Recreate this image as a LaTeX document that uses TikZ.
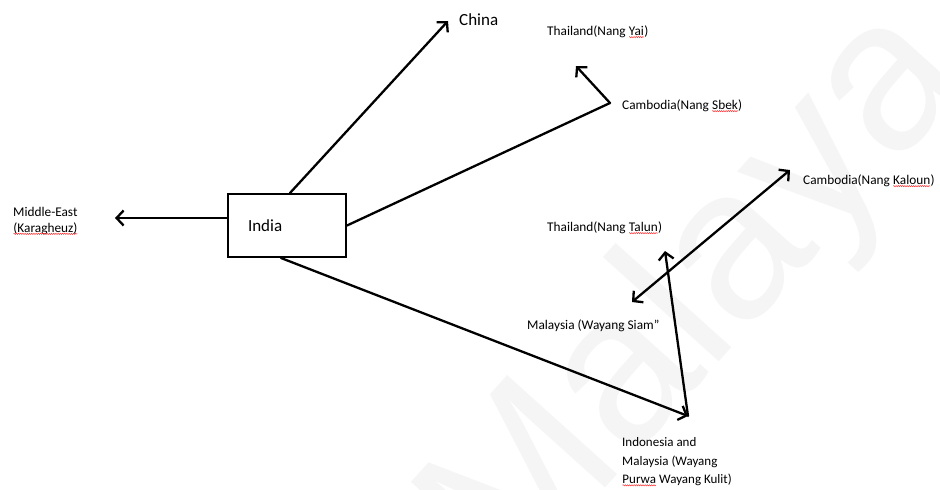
\documentclass[tikz,border=0pt]{standalone}
\usepackage{fontspec}
\setmainfont{Carlito}
\newfontfamily\wmfont{Liberation Sans}
\usetikzlibrary{arrows.meta,decorations.pathmorphing}
\newcommand\spellmark[1]{\tikz[baseline=(sw.base)]{\node[inner sep=0pt,outer sep=0pt](sw){#1};\draw[red!80,line width=0.5pt,decorate,decoration={snake,amplitude=0.6pt,segment length=2.2pt}] ([yshift=-1.4pt]sw.base west)--([yshift=-1.4pt]sw.base east);}}
\begin{document}
\begin{tikzpicture}[x=1pt,y=-1pt,
  lbl/.style={anchor=west,inner sep=0pt,font=\fontsize{13.3}{16}\selectfont,align=left},
  big/.style={anchor=west,inner sep=0pt,font=\fontsize{17}{20}\selectfont},
  conn/.style={line width=2.3pt,line cap=round,line join=round,-{Straight Barb[length=7pt,width=15pt,line width=2.3pt]}},
  dconn/.style={line width=2.3pt,line cap=round,{Straight Barb[length=7pt,width=15pt,line width=2.3pt]}-{Straight Barb[length=7pt,width=15pt,line width=2.3pt]}},
  boxnode/.style={draw,line width=2pt,minimum width=118pt,minimum height=63pt,text width=78pt,inner xsep=20pt,align=left,font=\fontsize{17}{20}\selectfont}]
\useasboundingbox (0,0) rectangle (940,490);
\fill[white] (0,0) rectangle (940,490);
% watermark
\begin{scope}
\clip (0,0) rectangle (940,490);
\node[rotate=48,text=black!4,font=\wmfont\fontsize{215}{215}\selectfont,inner sep=0pt] (wm) at (700,300) {Malaya};
\end{scope}
% nodes
\node[boxnode] (india) at (287,225.5) {India};
\node[lbl] (me) at (13,221) {Middle-East\\\spellmark{(Karagheuz)}};
\node[big] (china) at (459,20) {China};
\node[lbl] (thyai) at (547,32) {Thailand(Nang \spellmark{Yai})};
\node[lbl] (cbsbek) at (622,106) {Cambodia(Nang \spellmark{Sbek})};
\node[lbl] (cbkal) at (803,181) {Cambodia(Nang \spellmark{Kaloun})};
\node[lbl] (thtal) at (547,228) {Thailand(Nang \spellmark{Talun})};
\node[lbl] (mysiam) at (527,326) {Malaysia (Wayang Siam”};
\node[lbl,font=\fontsize{13}{18.5}\selectfont] (indo) at (622,462) {Indonesia and\\Malaysia (Wayang\\\spellmark{Purwa} Wayang Kulit)};
% connector points
\coordinate (meend) at (115,218);
\coordinate (chinaend) at (448,21);
\coordinate (sbekcorner) at (610,103);
\coordinate (yaiend) at (576,66);
\coordinate (indocorner) at (688,416);
\coordinate (talunend) at (665,251);
\coordinate (siamend) at (632,302);
\coordinate (kalend) at (790,170);
% connectors
\draw[conn] (india.west |- meend) -- (meend);
\draw[conn] ([xshift=3pt]india.north) -- (chinaend);
\draw[conn] (india.east) -- (sbekcorner) -- (yaiend);
\draw[conn] ([xshift=-6pt]india.south) -- (indocorner);
\draw[conn] (indocorner) -- (talunend);
\draw[dconn] (siamend) -- (kalend);
\end{tikzpicture}
\end{document}
